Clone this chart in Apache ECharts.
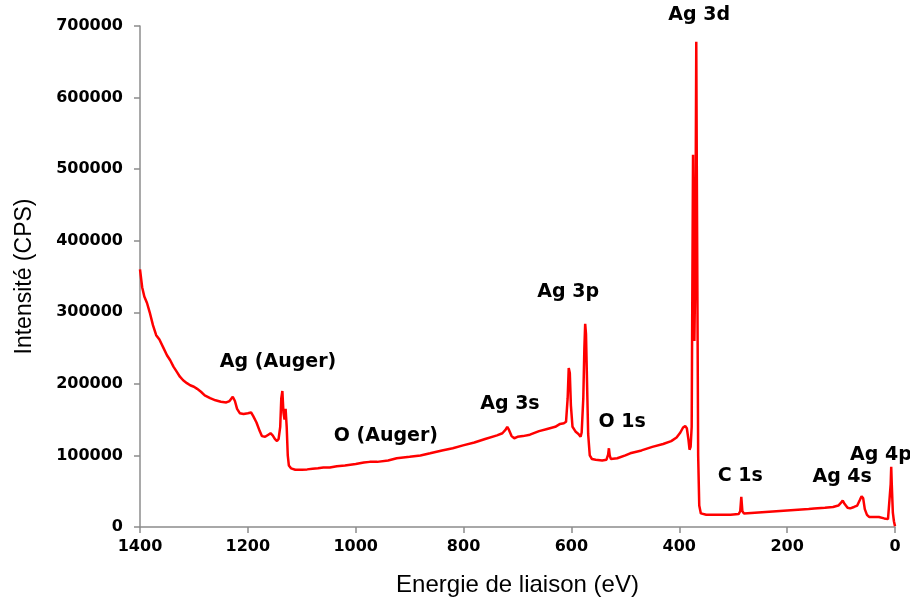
<!DOCTYPE html>
<html>
<head>
<meta charset="utf-8">
<script src="https://cdn.jsdelivr.net/npm/echarts@6/dist/echarts.min.js"></script>
<style>html,body{margin:0;padding:0;background:#fff}#c{width:910px;height:606px}</style>
</head>
<body>
<div id="c"></div>
<script>
// Binding energy (eV) and intensity (CPS)
const energy = [1400,1396,1392,1387,1382,1376,1370,1364,1357,1350,1344,1338,1332,1326,1320,1313,1307,1300,1294,1287,1280,1270,1260,1250,1240,1234,1228,1224,1220,1215,1208,1200,1194,1190,1184,1178,1174,1168,1162,1158,1154,1150,1146,1143,1140,1138,1136,1134,1132,1130,1128,1126,1124,1120,1112,1100,1090,1080,1070,1060,1048,1035,1020,1000,985,974,960,940,924,900,880,862,840,820,801,780,760,738,728,722,719,716,711,706,700,690,677,660,645,630,621,614,610,607,605,603,601,598,592,587,583,581,578,576,574.5,573,571,569,566,562,555,543,535,532,530.5,529,527,515,500,491,470,450,430,415,405,398,393,389,386,383,381,379,377,376,374.5,373,372,371,369.5,368.5,367.5,366,365,363,360,350,330,305,290,287,285,283,280,260,240,220,200,180,160,150,130,115,105,100,97,94,88,83,76,70,65,62,59,56,52,48,40,30,20,13,10,8,7,6,4,2,0];
const intensity = [360000,335000,322000,313000,300000,282000,268000,262000,251000,240000,233000,224000,217000,210000,205000,201000,198000,196000,193000,189000,184000,180000,177000,175000,174000,176000,182000,176000,165000,159000,158000,159000,160000,155000,146000,134000,127000,126000,129000,131000,128000,123000,120000,123000,140000,180000,190000,160000,150000,165000,140000,100000,86000,82000,80000,80000,80500,81500,82000,83000,83000,85000,86000,88000,90000,91000,91000,93000,96000,98000,100000,103000,107000,110000,114000,118000,123000,128000,131000,136000,140000,136000,127000,124000,126000,127000,129000,134000,137000,140000,144000,145000,147000,180000,222000,215000,170000,140000,133000,130000,126000,132000,180000,250000,284000,270000,200000,130000,100000,95000,94000,93000,94000,101000,110000,100000,95000,96000,100000,103000,107000,112000,116000,120000,125000,132000,139000,141000,138000,122000,108000,112000,140000,300000,520000,330000,260000,320000,500000,678000,500000,260000,100000,30000,19000,17000,17000,17000,18000,22000,42000,22000,19000,20000,21000,22000,23000,24000,25000,26000,27000,28000,30000,34000,37000,33000,27000,26000,28000,30000,38000,43000,40000,25000,17000,14000,14000,14000,12000,11000,12000,60000,84000,60000,20000,8000,1000];

// Peak annotations: name and anchor (energy, intensity) of the label centre
const peakNames = ["Ag 3d","Ag (Auger)","O (Auger)","Ag 3s","Ag 3p","O 1s","C 1s","Ag 4s","Ag 4p"];
const peakEnergy = [363,1144,944,714,606,506,287,98,26];
const peakIntensity = [715000,230000,127000,172000,328000,147000,71000,70000,101000];

const xTicks = {min:0, max:1400, interval:200};
const yTicks = {min:0, max:700000, interval:100000};

const chart = echarts.init(document.getElementById('c'), null, {renderer:'canvas'});
const pts = energy.map((e,i)=>[e,intensity[i]]);
const axisColor = '#8c8c8c';
const plain = v => String(v);
chart.setOption({
  animation:false,
  backgroundColor:'#fff',
  grid:{left:140,right:15,top:26,bottom:79,containLabel:false},
  xAxis:{
    type:'value', inverse:true, min:xTicks.min, max:xTicks.max, interval:xTicks.interval,
    name:'Energie de liaison (eV)', nameLocation:'middle', nameGap:46,
    nameTextStyle:{fontFamily:'Liberation Sans',fontSize:24,color:'#000'},
    axisLine:{show:true,onZero:false,lineStyle:{color:axisColor,width:1.5}},
    axisTick:{show:true,inside:false,length:6,lineStyle:{color:axisColor,width:1.5}},
    axisLabel:{fontFamily:'DejaVu Sans',fontWeight:'bold',fontSize:16,color:'#000',margin:12,formatter:plain},
    splitLine:{show:false}
  },
  yAxis:{
    type:'value', position:'left', min:yTicks.min, max:yTicks.max, interval:yTicks.interval,
    name:'Intensité (CPS)', nameLocation:'middle', nameGap:104, nameRotate:90,
    nameTextStyle:{fontFamily:'Liberation Sans',fontSize:23,color:'#000'},
    axisLine:{show:true,onZero:false,lineStyle:{color:axisColor,width:1.5}},
    axisTick:{show:true,inside:false,length:6,lineStyle:{color:axisColor,width:1.5}},
    axisLabel:{fontFamily:'DejaVu Sans',fontWeight:'bold',fontSize:16,color:'#000',margin:17,formatter:plain},
    splitLine:{show:false}
  },
  series:[{
    type:'line', data:pts, showSymbol:false, symbol:'none',
    lineStyle:{color:'#ff0000',width:2.5}, itemStyle:{color:'#ff0000'},
    clip:false
  }]
});
const texts = peakNames.map((n,i)=>{
  const p = chart.convertToPixel({gridIndex:0},[peakEnergy[i],peakIntensity[i]]);
  return {type:'text', x:p[0], y:p[1], z:100,
    style:{text:n, fontFamily:'DejaVu Sans', fontWeight:'bold', fontSize:19, fill:'#000', align:'center', verticalAlign:'middle'}};
});
chart.setOption({graphic:texts});
</script>
</body>
</html>
